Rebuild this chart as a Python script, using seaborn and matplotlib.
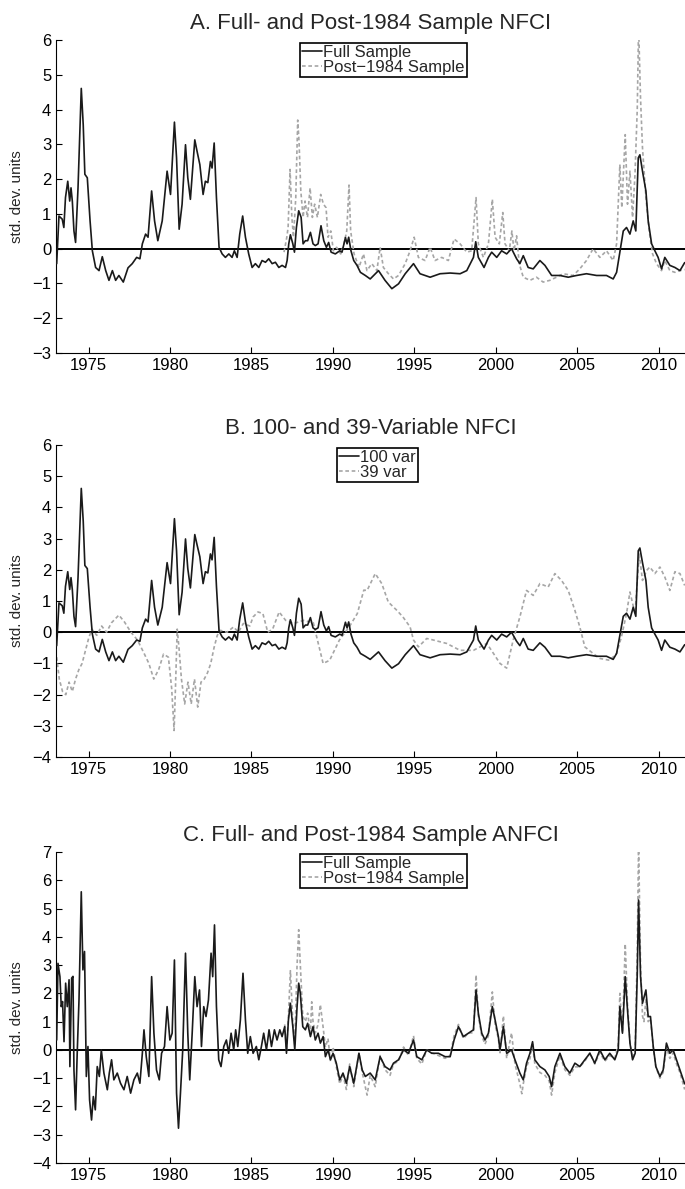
import numpy as np
import pandas as pd
import matplotlib
matplotlib.use("Agg")
import matplotlib.pyplot as plt
import seaborn as sns

# ---------------- data ----------------
nfci_full_t = [1973.04, 1973.18, 1973.38, 1973.48, 1973.58, 1973.72, 1973.84, 1973.92, 1974.0, 1974.1,
               1974.2, 1974.35, 1974.55, 1974.67, 1974.77, 1974.92, 1975.09, 1975.23, 1975.43, 1975.64,
               1975.84, 1976.05, 1976.25, 1976.46, 1976.66, 1976.86, 1977.13, 1977.42, 1977.68, 1977.95,
               1978.15, 1978.3, 1978.5, 1978.65, 1978.87, 1979.05, 1979.25, 1979.52, 1979.82, 1980.03,
               1980.27, 1980.4, 1980.56, 1980.74, 1980.95, 1981.09, 1981.25, 1981.52, 1981.66, 1981.83,
               1982.03, 1982.17, 1982.32, 1982.48, 1982.58, 1982.71, 1982.85, 1983.01, 1983.2, 1983.4,
               1983.61, 1983.81, 1983.95, 1984.12, 1984.28, 1984.46, 1984.63, 1984.83, 1985.04, 1985.24,
               1985.45, 1985.65, 1985.86, 1986.06, 1986.27, 1986.47, 1986.68, 1986.88, 1987.09, 1987.19,
               1987.29, 1987.39, 1987.54, 1987.64, 1987.76, 1987.9, 1988.05, 1988.17, 1988.31, 1988.45,
               1988.62, 1988.78, 1988.92, 1989.09, 1989.27, 1989.44, 1989.6, 1989.74, 1989.89, 1990.15,
               1990.42, 1990.56, 1990.77, 1990.87, 1990.97, 1991.11, 1991.28, 1991.48, 1991.69, 1991.99,
               1992.29, 1992.8, 1993.2, 1993.62, 1994.03, 1994.44, 1994.95, 1995.35, 1995.97, 1996.58,
               1997.2, 1997.81, 1998.22, 1998.63, 1998.77, 1998.93, 1999.28, 1999.55, 1999.75, 2000.06,
               2000.36, 2000.67, 2000.97, 2001.28, 2001.48, 2001.69, 2001.99, 2002.3, 2002.71, 2003.02,
               2003.43, 2003.94, 2004.45, 2004.96, 2005.57, 2006.19, 2006.8, 2007.21, 2007.42, 2007.62,
               2007.83, 2008.03, 2008.24, 2008.44, 2008.6, 2008.75, 2008.85, 2009.01, 2009.22, 2009.36,
               2009.57, 2009.77, 2009.97, 2010.18, 2010.38, 2010.69, 2011.0, 2011.31, 2011.6]
nfci_full_v = [-0.43, 0.94, 0.85, 0.61, 1.47, 1.94, 1.37, 1.75, 1.37, 0.51,
               0.18, 1.75, 4.61, 3.56, 2.14, 2.04, 0.8, -0.06, -0.54, -0.63,
               -0.23, -0.63, -0.91, -0.63, -0.91, -0.77, -0.96, -0.55, -0.43, -0.25,
               -0.29, 0.14, 0.42, 0.33, 1.66, 0.8, 0.23, 0.8, 2.23, 1.56,
               3.64, 2.61, 0.56, 1.28, 2.99, 2.04, 1.42, 3.13, 2.8, 2.42,
               1.56, 1.94, 1.9, 2.51, 2.32, 3.04, 1.47, 0.04, -0.15, -0.25,
               -0.15, -0.25, -0.06, -0.25, 0.42, 0.94, 0.33, -0.15, -0.54, -0.43,
               -0.54, -0.34, -0.39, -0.29, -0.43, -0.39, -0.54, -0.48, -0.54, -0.34,
               0.14, 0.4, 0.14, -0.1, 0.61, 1.09, 0.9, 0.14, 0.23, 0.23,
               0.47, 0.14, 0.09, 0.14, 0.66, 0.23, 0.04, 0.18, -0.1, -0.15,
               -0.06, -0.1, 0.32, 0.14, 0.33, -0.06, -0.34, -0.48, -0.68, -0.77,
               -0.87, -0.63, -0.91, -1.15, -1.01, -0.72, -0.43, -0.72, -0.82, -0.72,
               -0.7, -0.72, -0.63, -0.25, 0.2, -0.25, -0.54, -0.25, -0.1, -0.25,
               -0.06, -0.15, 0.0, -0.29, -0.43, -0.2, -0.54, -0.58, -0.34, -0.48,
               -0.77, -0.77, -0.82, -0.77, -0.72, -0.77, -0.77, -0.87, -0.68, -0.1,
               0.51, 0.61, 0.42, 0.8, 0.51, 2.61, 2.7, 2.23, 1.66, 0.8,
               0.14, -0.06, -0.25, -0.58, -0.25, -0.48, -0.54, -0.63, -0.4]

nfci_post_t = [1987.0, 1987.17, 1987.25, 1987.37, 1987.48, 1987.58, 1987.72, 1987.84, 1987.92, 1988.03,
               1988.17, 1988.29, 1988.44, 1988.6, 1988.74, 1988.88, 1989.05, 1989.25, 1989.42, 1989.58,
               1989.7, 1989.87, 1990.03, 1990.23, 1990.48, 1990.68, 1990.85, 1990.99, 1991.09, 1991.3,
               1991.6, 1991.88, 1992.09, 1992.39, 1992.7, 1992.9, 1993.1, 1993.41, 1993.72, 1994.03,
               1994.44, 1994.74, 1994.99, 1995.25, 1995.66, 1995.97, 1996.27, 1996.68, 1997.09, 1997.44,
               1997.81, 1998.22, 1998.52, 1998.79, 1998.93, 1999.24, 1999.55, 1999.79, 1999.96, 2000.22,
               2000.43, 2000.57, 2000.83, 2000.99, 2001.12, 2001.28, 2001.44, 2001.69, 2002.1, 2002.5,
               2002.91, 2003.32, 2003.73, 2004.14, 2004.75, 2005.16, 2005.57, 2005.98, 2006.39, 2006.8,
               2007.21, 2007.42, 2007.62, 2007.74, 2007.95, 2008.09, 2008.24, 2008.4, 2008.55, 2008.69,
               2008.77, 2008.89, 2009.01, 2009.22, 2009.42, 2009.63, 2009.87, 2010.18, 2010.38, 2010.69,
               2011.0, 2011.31, 2011.6]
nfci_post_v = [-0.1, 0.33, 0.61, 2.28, 0.9, 0.33, 1.47, 3.7, 3.09, 1.66,
               0.9, 1.37, 0.9, 1.75, 0.9, 1.28, 0.9, 1.56, 1.28, 1.18,
               0.33, 0.51, -0.06, 0.04, -0.15, 0.14, 0.51, 1.83, 0.51, -0.15,
               -0.54, -0.15, -0.63, -0.43, -0.63, 0.04, -0.54, -0.72, -0.87, -0.77,
               -0.43, -0.06, 0.33, -0.25, -0.34, 0.04, -0.34, -0.25, -0.34, 0.28,
               0.14, -0.1, -0.06, 1.47, 0.14, -0.25, 0.14, 1.42, 0.33, 0.14,
               1.04, 0.14, -0.06, 0.51, -0.06, 0.37, -0.43, -0.82, -0.91, -0.82,
               -0.96, -0.91, -0.82, -0.72, -0.77, -0.58, -0.34, 0.0, -0.25, -0.06,
               -0.34, 0.14, 2.42, 1.18, 3.28, 1.28, 2.23, 0.9, 2.14, 4.04,
               6.4, 4.32, 2.9, 1.47, 0.51, -0.15, -0.43, -0.63, -0.34, -0.63,
               -0.68, -0.63, -0.6]

# 100-variable NFCI is the full-sample NFCI
var100_t = nfci_full_t
var100_v = nfci_full_v

var39_t = [1973.04, 1973.2, 1973.4, 1973.6, 1973.8, 1974.0, 1974.2, 1974.4, 1974.6, 1974.8,
           1975.0, 1975.2, 1975.5, 1975.8, 1976.1, 1976.4, 1976.86, 1977.2, 1977.6, 1978.0,
           1978.4, 1978.7, 1979.0, 1979.3, 1979.6, 1979.9, 1980.1, 1980.25, 1980.35, 1980.44,
           1980.55, 1980.7, 1980.9, 1981.1, 1981.3, 1981.5, 1981.7, 1981.9, 1982.1, 1982.3,
           1982.5, 1982.7, 1982.9, 1983.1, 1983.5, 1983.9, 1984.2, 1984.5, 1984.9, 1985.1,
           1985.4, 1985.7, 1986.0, 1986.3, 1986.7, 1987.1, 1987.6, 1988.2, 1988.8, 1989.0,
           1989.4, 1989.8, 1990.4, 1991.0, 1991.5, 1991.9, 1992.1, 1992.6, 1993.0, 1993.4,
           1993.93, 1994.3, 1994.74, 1994.95, 1995.25, 1995.76, 1996.17, 1996.99, 1997.81, 1998.63,
           1999.45, 1999.86, 2000.26, 2000.67, 2001.07, 2001.48, 2001.89, 2002.3, 2002.71, 2003.22,
           2003.63, 2004.04, 2004.45, 2004.86, 2005.16, 2005.47, 2005.98, 2006.39, 2007.0, 2007.42,
           2007.72, 2008.03, 2008.24, 2008.55, 2008.81, 2009.01, 2009.26, 2009.46, 2009.77, 2010.08,
           2010.38, 2010.69, 2011.0, 2011.31, 2011.6]
var39_v = [-0.8, -1.5, -1.9, -2.0, -1.6, -1.9, -1.5, -1.2, -1.0, -0.6,
           -0.2, 0.1, -0.1, 0.2, 0.0, 0.3, 0.55, 0.33, 0.0, -0.25,
           -0.67, -1.0, -1.5, -1.2, -0.7, -0.8, -1.8, -3.15, -1.5, 0.1,
           -0.5, -1.5, -2.3, -1.6, -2.3, -1.5, -2.4, -1.6, -1.5, -1.3,
           -1.0, -0.5, -0.1, 0.06, 0.0, 0.17, 0.0, 0.28, 0.2, 0.49,
           0.65, 0.6, 0.0, 0.1, 0.65, 0.38, 0.28, 0.38, 0.3, -0.14,
           -1.0, -0.9, -0.25, 0.17, 0.6, 1.35, 1.34, 1.88, 1.56, 0.97,
           0.7, 0.49, 0.17, -0.25, -0.47, -0.2, -0.25, -0.36, -0.58, -0.58,
           -0.36, -0.68, -1.0, -1.15, -0.25, 0.49, 1.34, 1.18, 1.56, 1.45,
           1.88, 1.66, 1.34, 0.7, 0.17, -0.47, -0.68, -0.84, -0.9, -0.68,
           -0.14, 0.6, 1.29, 0.6, 2.51, 1.66, 1.98, 2.09, 1.88, 2.09,
           1.77, 1.34, 1.94, 1.88, 1.5]

anfci_full_t = [1973.04, 1973.12, 1973.24, 1973.32, 1973.4, 1973.49, 1973.59, 1973.69, 1973.8, 1973.85,
                1973.96, 1974.04, 1974.1, 1974.2, 1974.3, 1974.41, 1974.55, 1974.65, 1974.75, 1974.86,
                1974.96, 1975.06, 1975.18, 1975.29, 1975.41, 1975.53, 1975.66, 1975.78, 1975.94, 1976.15,
                1976.27, 1976.41, 1976.55, 1976.76, 1976.96, 1977.17, 1977.37, 1977.58, 1977.78, 1977.99,
                1978.15, 1978.3, 1978.4, 1978.54, 1978.7, 1978.87, 1979.01, 1979.17, 1979.34, 1979.48,
                1979.66, 1979.82, 1979.99, 1980.13, 1980.27, 1980.4, 1980.52, 1980.64, 1980.78, 1980.95,
                1981.09, 1981.21, 1981.36, 1981.52, 1981.66, 1981.81, 1981.93, 1982.07, 1982.21, 1982.36,
                1982.52, 1982.62, 1982.73, 1982.85, 1982.99, 1983.13, 1983.3, 1983.46, 1983.6, 1983.75,
                1983.91, 1984.03, 1984.16, 1984.32, 1984.48, 1984.63, 1984.77, 1984.93, 1985.1, 1985.3,
                1985.45, 1985.61, 1985.75, 1985.92, 1986.08, 1986.23, 1986.41, 1986.57, 1986.74, 1986.88,
                1987.04, 1987.15, 1987.27, 1987.39, 1987.54, 1987.66, 1987.8, 1987.9, 1988.0, 1988.15,
                1988.31, 1988.45, 1988.62, 1988.78, 1988.92, 1989.09, 1989.23, 1989.4, 1989.54, 1989.7,
                1989.85, 1990.01, 1990.21, 1990.42, 1990.62, 1990.83, 1991.03, 1991.28, 1991.6, 1991.8,
                1991.99, 1992.29, 1992.6, 1992.9, 1993.2, 1993.51, 1993.72, 1994.03, 1994.34, 1994.64,
                1994.95, 1995.15, 1995.46, 1995.76, 1996.07, 1996.48, 1996.89, 1997.2, 1997.44, 1997.71,
                1998.01, 1998.32, 1998.63, 1998.79, 1998.93, 1999.14, 1999.34, 1999.55, 1999.79, 1999.96,
                2000.16, 2000.26, 2000.47, 2000.67, 2000.97, 2001.18, 2001.48, 2001.69, 2001.89, 2002.1,
                2002.26, 2002.4, 2002.71, 2003.02, 2003.28, 2003.43, 2003.63, 2003.94, 2004.24, 2004.55,
                2004.86, 2005.16, 2005.47, 2005.78, 2006.08, 2006.39, 2006.7, 2007.0, 2007.31, 2007.52,
                2007.62, 2007.78, 2007.95, 2008.09, 2008.24, 2008.4, 2008.56, 2008.69, 2008.77, 2008.89,
                2009.01, 2009.22, 2009.36, 2009.5, 2009.67, 2009.83, 2010.08, 2010.28, 2010.48, 2010.69,
                2010.89, 2011.1, 2011.31, 2011.6]
anfci_full_v = [0.35, 3.06, 2.59, 1.53, 1.71, 0.29, 2.36, 1.53, 2.48, -0.59,
                2.54, 2.6, -0.71, -2.12, -0.12, 1.77, 5.59, 2.83, 3.48, -0.94,
                0.12, -1.77, -2.48, -1.65, -2.12, -0.59, -0.94, 0.0, -0.82, -1.41,
                -0.82, -0.35, -1.06, -0.82, -1.18, -1.41, -0.94, -1.53, -1.06, -0.82,
                -1.18, -0.12, 0.71, -0.24, -0.94, 2.59, 0.59, -0.71, -1.06, -0.12,
                0.12, 1.53, 0.35, 0.59, 3.18, -1.53, -2.77, -1.53, 0.0, 3.42,
                0.59, -1.06, 0.59, 2.59, 1.53, 2.12, 0.12, 1.53, 1.18, 1.77,
                3.42, 2.59, 4.42, 1.53, -0.35, -0.59, 0.12, 0.35, -0.12, 0.59,
                0.0, 0.71, 0.12, 1.06, 2.71, 1.06, -0.12, 0.47, -0.12, 0.12,
                -0.35, 0.12, 0.59, 0.0, 0.71, 0.12, 0.71, 0.35, 0.71, 0.47,
                0.82, -0.12, 1.06, 1.65, 0.82, 0.0, 1.53, 2.36, 2.0, 0.82,
                0.71, 0.94, 0.47, 0.82, 0.35, 0.59, 0.24, 0.47, -0.24, 0.0,
                -0.35, -0.12, -0.47, -1.06, -0.82, -1.18, -0.59, -1.18, -0.12, -0.71,
                -0.94, -0.82, -1.06, -0.24, -0.59, -0.71, -0.47, -0.35, 0.0, -0.12,
                0.35, -0.24, -0.35, 0.0, -0.12, -0.12, -0.24, -0.24, 0.35, 0.82,
                0.47, 0.59, 0.71, 2.12, 1.3, 0.59, 0.35, 0.59, 1.53, 1.06,
                0.47, 0.0, 0.82, -0.12, 0.0, -0.35, -0.82, -1.06, -0.47, -0.12,
                0.29, -0.35, -0.59, -0.71, -0.94, -1.3, -0.59, -0.12, -0.59, -0.82,
                -0.47, -0.59, -0.35, -0.12, -0.47, 0.0, -0.35, -0.12, -0.35, 0.0,
                1.53, 0.59, 2.59, 1.41, 0.24, -0.35, -0.12, 2.71, 5.3, 2.59,
                1.65, 2.12, 1.18, 1.18, 0.12, -0.59, -0.94, -0.71, 0.24, -0.12,
                0.0, -0.35, -0.71, -1.2]

anfci_post_t = [1987.04, 1987.15, 1987.27, 1987.39, 1987.54, 1987.66, 1987.8, 1987.9, 1988.0, 1988.15,
                1988.31, 1988.45, 1988.62, 1988.7, 1988.78, 1988.92, 1989.09, 1989.23, 1989.4, 1989.54,
                1989.7, 1989.85, 1990.01, 1990.21, 1990.42, 1990.62, 1990.83, 1991.03, 1991.28, 1991.6,
                1991.8, 1992.1, 1992.29, 1992.6, 1992.9, 1993.2, 1993.51, 1993.72, 1994.03, 1994.34,
                1994.64, 1994.95, 1995.15, 1995.46, 1995.76, 1996.07, 1996.48, 1996.89, 1997.2, 1997.44,
                1997.71, 1998.01, 1998.32, 1998.63, 1998.79, 1998.93, 1999.14, 1999.34, 1999.55, 1999.79,
                1999.96, 2000.16, 2000.26, 2000.47, 2000.67, 2000.97, 2001.18, 2001.48, 2001.6, 2001.69,
                2001.89, 2002.1, 2002.26, 2002.4, 2002.71, 2003.02, 2003.28, 2003.43, 2003.63, 2003.94,
                2004.24, 2004.55, 2004.86, 2005.16, 2005.47, 2005.78, 2006.08, 2006.39, 2006.7, 2007.0,
                2007.31, 2007.52, 2007.62, 2007.78, 2007.95, 2008.09, 2008.24, 2008.4, 2008.56, 2008.69,
                2008.77, 2008.89, 2009.01, 2009.1, 2009.22, 2009.36, 2009.5, 2009.67, 2009.83, 2010.08,
                2010.28, 2010.48, 2010.69, 2010.89, 2011.1, 2011.31, 2011.6]
anfci_post_v = [0.9, 0.0, 1.2, 2.8, 1.0, 0.2, 3.0, 4.25, 3.0, 1.2,
                1.0, 1.3, 0.6, 1.7, 1.0, 0.6, 0.9, 1.6, 0.8, 0.1,
                0.4, -0.4, 0.1, -0.6, -1.2, -0.9, -1.4, -0.5, -1.3, -0.1,
                -0.8, -1.6, -0.9, -1.3, -0.2, -0.7, -0.9, -0.5, -0.4, 0.1,
                -0.2, 0.5, -0.3, -0.5, 0.0, -0.1, -0.2, -0.3, -0.2, 0.5,
                0.9, 0.4, 0.6, 0.6, 2.65, 1.2, 0.5, 0.2, 0.5, 2.05,
                0.9, 0.4, -0.1, 1.2, -0.3, 0.6, -0.5, -1.2, -1.55, -1.2,
                -0.6, -0.3, 0.2, -0.5, -0.8, -0.9, -1.1, -1.6, -0.8, -0.2,
                -0.7, -0.9, -0.6, -0.6, -0.4, -0.1, -0.5, -0.1, -0.4, -0.2,
                -0.3, 0.2, 2.0, 0.6, 3.75, 1.6, 0.3, -0.3, 0.0, 3.5,
                7.3, 3.0, 1.2, 1.0, 1.8, 1.0, 1.1, 0.1, -0.6, -1.0,
                -0.8, 0.1, -0.3, -0.1, -0.5, -0.8, -1.4]

titles = ["A. Full- and Post-1984 Sample NFCI",
          "B. 100- and 39-Variable NFCI",
          "C. Full- and Post-1984 Sample ANFCI"]
legend_labels = [["Full Sample", "Post\u22121984 Sample"],
                 ["100 var", "39 var"],
                 ["Full Sample", "Post\u22121984 Sample"]]
x_ticks = [1975, 1980, 1985, 1990, 1995, 2000, 2005, 2010]
y_ranges = [(-3, 6), (-4, 6), (-4, 7)]

# ---------------- plotting ----------------
sns.set_style("ticks")
plt.rcParams['font.family'] = ['Liberation Sans', 'DejaVu Sans']
plt.rcParams['axes.unicode_minus'] = True

fig = plt.figure(figsize=(6.85, 11.89), dpi=100)
rects = [[0.0818, 0.7031, 0.9182, 0.2632],
         [0.0818, 0.3633, 0.9182, 0.2624],
         [0.0818, 0.02187, 0.9182, 0.2616]]

series = [((nfci_full_t, nfci_full_v), (nfci_post_t, nfci_post_v)),
          ((var100_t, var100_v), (var39_t, var39_v)),
          ((anfci_full_t, anfci_full_v), (anfci_post_t, anfci_post_v))]

legend_anchor = [(0.52, 0.99), (0.511, 0.99), (0.52, 0.994)]

for i in range(3):
    ax = fig.add_axes(rects[i])
    (t1, v1), (t2, v2) = series[i]
    d1 = pd.DataFrame({"t": t1, "v": v1})
    d2 = pd.DataFrame({"t": t2, "v": v2})
    ax.axhline(0, color="black", lw=1.4, zorder=1)
    sns.lineplot(data=d1, x="t", y="v", ax=ax, color="#1a1a1a", lw=1.2,
                 label=legend_labels[i][0], sort=False, estimator=None, zorder=3)
    sns.lineplot(data=d2, x="t", y="v", ax=ax, color="#a6a6a6", lw=1.2,
                 label=legend_labels[i][1], sort=False, estimator=None, zorder=2,
                 dashes=False, linestyle=(0, (2.2, 1.6)))
    ax.set_xlim(1973.0, 2011.62)
    ax.set_ylim(*y_ranges[i])
    ax.set_xticks(x_ticks)
    ax.set_yticks(range(y_ranges[i][0], y_ranges[i][1] + 1))
    ax.set_xlabel("")
    ax.set_ylabel("std. dev. units", fontsize=11, labelpad=6)
    ax.set_title(titles[i], fontsize=16, pad=8)
    ax.tick_params(direction="in", length=4, width=0.8, labelsize=12, colors="black")
    for s in ["top", "right"]:
        ax.spines[s].set_visible(False)
    for s in ["left", "bottom"]:
        ax.spines[s].set_color("black")
        ax.spines[s].set_linewidth(0.8)
    leg = ax.legend(loc="upper center", bbox_to_anchor=legend_anchor[i],
                    fontsize=12, frameon=True, fancybox=False, framealpha=1,
                    edgecolor="black", borderpad=0.12, labelspacing=0.0,
                    handlelength=1.2, handletextpad=0.1, borderaxespad=0.0)
    leg.get_frame().set_linewidth(1.2)

fig.savefig("out.png", dpi=100)
